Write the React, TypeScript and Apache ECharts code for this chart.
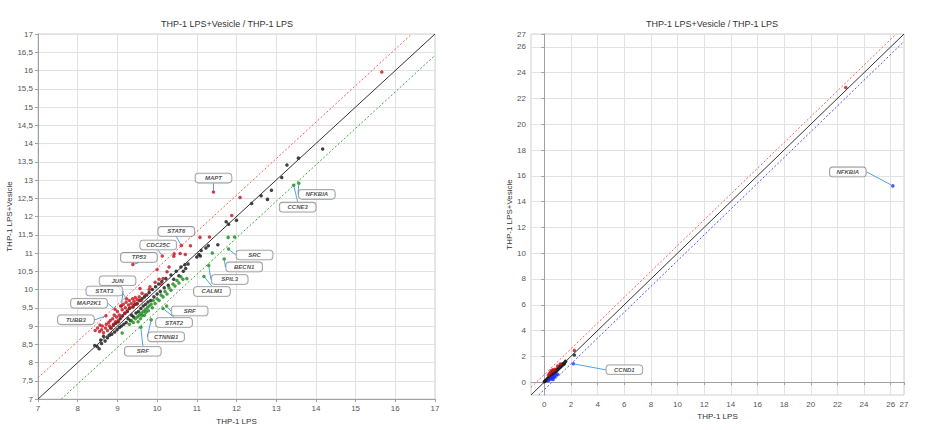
import React, { useEffect, useRef } from 'react';
import * as echarts from 'echarts';

const chartTitle = 'THP-1 LPS+Vesicle / THP-1 LPS';
const xAxisName = 'THP-1 LPS';
const yAxisName = 'THP-1 LPS+Vesicle';

const FOLD_OFFSET = Math.log2(1.5);

// ---------- Left plot (zoomed range 7..17) ----------
const leftRange = [7, 17];

const leftUpPoints: [number, number][] = [
  [8.44, 8.88], [8.56, 9.03], [9.82, 10.08], [9.57, 10.03], [10.25, 10.49],
  [10.43, 10.98], [10.58, 10.99], [10.42, 10.91], [10.71, 10.96], [10.84, 11.2],
  [11.08, 11.43], [11.32, 11.44], [11.88, 12.03], [12.09, 12.52], [15.66, 15.96],
  [8.5, 8.95], [8.55, 8.85], [8.6, 8.9], [8.62, 9.0], [8.65, 8.82], [8.7, 8.95],
  [8.72, 9.05], [8.75, 8.88], [8.78, 9.1], [8.8, 9.0], [8.82, 9.15], [8.85, 8.95],
  [8.88, 9.2], [8.9, 9.05], [8.92, 9.3], [8.95, 9.12], [8.98, 9.25], [9.0, 9.4],
  [9.02, 9.15], [9.05, 9.3], [9.08, 9.55], [9.1, 9.25], [9.12, 9.45], [9.15, 9.6],
  [9.18, 9.35], [9.2, 9.5], [9.22, 9.65], [9.25, 9.42], [9.28, 9.58], [9.3, 9.7],
  [9.32, 9.5], [9.35, 9.62], [9.38, 9.75], [9.4, 9.55], [9.42, 9.68], [9.45, 9.78],
  [9.48, 9.6], [9.5, 9.72], [9.55, 9.8], [9.6, 9.7], [9.62, 9.9], [9.7, 9.85],
  [9.8, 10.0], [9.95, 10.2], [10.05, 10.28], [10.1, 10.15], [10.15, 10.3],
  [10.0, 10.55], [10.3, 10.62],
];

const leftNeutralPoints: [number, number][] = [
  [8.43, 8.47], [8.49, 8.44], [8.54, 8.38], [8.6, 8.52], [8.69, 8.59], [8.75, 8.68],
  [8.65, 8.72], [8.58, 8.62], [8.8, 8.75], [8.83, 8.95], [8.86, 8.78], [8.9, 9.02],
  [8.93, 8.84], [8.96, 9.08], [8.99, 8.9], [9.02, 9.12], [9.05, 8.96], [9.07, 9.2],
  [9.1, 9.0], [9.13, 9.28], [9.16, 9.05], [9.19, 9.35], [9.22, 9.1], [9.25, 9.4],
  [9.27, 9.2], [9.3, 9.48], [9.33, 9.15], [9.36, 9.3], [9.39, 9.52], [9.41, 9.25],
  [9.44, 9.6], [9.47, 9.36], [9.5, 9.62], [9.53, 9.4], [9.56, 9.7], [9.59, 9.48],
  [9.62, 9.75], [9.65, 9.55], [9.68, 9.8], [9.71, 9.6], [9.74, 9.85], [9.77, 9.66],
  [9.8, 9.92], [9.84, 9.7], [9.88, 10.0], [9.92, 9.8], [9.96, 10.08], [10.0, 9.88],
  [10.04, 10.15], [10.08, 9.95], [10.12, 10.22], [10.18, 10.05], [10.22, 10.3],
  [10.28, 10.12], [10.35, 10.4], [10.42, 10.28], [10.48, 10.5], [10.55, 10.38],
  [10.6, 10.62], [10.66, 10.5], [10.7, 10.68], [10.72, 10.58], [10.78, 10.7],
  [11.0, 10.89], [11.05, 10.96], [11.09, 10.92], [11.11, 11.07], [11.23, 11.14],
  [11.29, 11.2], [11.53, 11.23], [11.74, 11.86], [11.8, 11.79], [12.0, 11.9],
  [12.38, 12.36], [12.62, 12.57], [12.78, 12.47], [12.88, 12.72], [13.14, 13.07],
  [13.27, 13.41], [13.56, 13.6], [14.17, 13.85],
];

const leftDownPoints: [number, number][] = [
  [11.39, 11.0], [11.79, 11.43], [11.95, 11.44], [9.12, 8.81],
  [9.3, 9.05], [9.35, 9.15], [9.4, 9.1], [9.45, 9.2], [9.5, 9.25], [9.52, 9.12],
  [9.55, 9.3], [9.58, 9.2], [9.6, 9.35], [9.62, 9.28], [9.65, 9.4], [9.68, 9.3],
  [9.7, 9.45], [9.72, 9.38], [9.75, 9.5], [9.78, 9.42], [9.8, 9.55], [9.85, 9.6],
  [9.88, 9.5], [9.9, 9.7], [9.95, 9.62], [10.0, 9.75], [10.05, 9.7], [10.1, 9.85],
  [10.15, 9.8], [10.2, 9.95], [10.25, 9.88], [10.3, 10.05], [10.35, 9.98],
  [10.4, 10.15], [10.45, 10.1], [10.5, 10.25], [10.55, 10.18], [10.6, 10.35],
  [10.65, 10.28], [10.75, 10.3],
];

const leftGenes = [
  { name: 'MAPT', x: 11.42, y: 12.67, group: 'up' },
  { name: 'NFKBIA', x: 13.57, y: 12.91, group: 'down' },
  { name: 'CCNE3', x: 13.44, y: 12.86, group: 'down' },
  { name: 'STAT6', x: 10.61, y: 11.21, group: 'up' },
  { name: 'CDC25C', x: 10.13, y: 10.92, group: 'up' },
  { name: 'TP53', x: 9.39, y: 10.69, group: 'up' },
  { name: 'JUN', x: 9.23, y: 9.75, group: 'up' },
  { name: 'STAT3', x: 9.1, y: 9.55, group: 'up' },
  { name: 'MAP2K1', x: 8.94, y: 9.46, group: 'up' },
  { name: 'TUBB3', x: 8.71, y: 9.28, group: 'up' },
  { name: 'SRC', x: 11.8, y: 11.11, group: 'down' },
  { name: 'BECN1', x: 11.69, y: 10.84, group: 'down' },
  { name: 'SPIL3', x: 11.3, y: 10.66, group: 'down' },
  { name: 'CALM1', x: 11.18, y: 10.36, group: 'down' },
  { name: 'SRF', x: 10.24, y: 9.55, group: 'down' },
  { name: 'STAT2', x: 10.15, y: 9.48, group: 'down' },
  { name: 'CTNNB1', x: 9.85, y: 9.17, group: 'down' },
  { name: 'SRF', x: 9.59, y: 8.97, group: 'down' },
];

// label box placement (pixel offsets from the point), layout only
const leftLabelOffsets: [number, number][] = [
  [0, -14], [18, 11], [4, 22], [-5, -14], [-4, -11], [6, -7], [-9, -18], [-17, -15],
  [-26, -6], [-30, 4], [26, 6], [20, 8], [21, 14], [8, 15], [23, 5], [11, 14], [15, 17], [2, 24],
];

// ---------- Right plot (full range -1..27) ----------
const rightRange = [-1, 27];
const rightTicks = [0, 2, 4, 6, 8, 10, 12, 14, 16, 18, 20, 22, 24, 26, 27];

const rightUpPoints: [number, number][] = [
  [0.3, 0.55], [0.4, 0.65], [0.45, 0.75], [0.5, 0.8], [0.55, 0.9], [0.6, 0.85],
  [0.65, 0.95], [0.7, 0.9], [0.8, 1.0], [1.0, 1.25], [1.2, 1.4], [2.25, 2.46], [22.63, 22.85],
];
const rightNeutralPoints: [number, number][] = [
  [0, 0.02], [0.05, 0.08], [0.1, 0.1], [0.15, 0.18], [0.2, 0.15], [0.25, 0.3], [0.3, 0.28],
  [0.35, 0.4], [0.4, 0.38], [0.45, 0.5], [0.5, 0.45], [0.55, 0.6], [0.6, 0.55], [0.65, 0.7],
  [0.7, 0.65], [0.75, 0.8], [0.8, 0.72], [0.85, 0.9], [0.9, 0.85], [0.95, 1.0], [1.0, 0.95],
  [1.05, 1.1], [1.1, 1.05], [1.15, 1.2], [1.2, 1.15], [1.25, 1.3], [1.3, 1.25], [1.35, 1.4],
  [1.4, 1.35], [1.45, 1.45], [1.5, 1.42], [1.55, 1.55], [1.6, 1.62], [2.25, 2.1],
];
const rightDownPoints: [number, number][] = [
  [0.3, 0.1], [0.4, 0.2], [0.5, 0.3], [0.55, 0.25], [0.6, 0.35], [0.7, 0.4], [0.75, 0.35],
  [0.8, 0.5], [0.9, 0.55], [1.0, 0.6], [0.65, 0.2],
];
const rightGenes = [
  { name: 'NFKBIA', x: 26.16, y: 15.22, group: 'down' },
  { name: 'CCND1', x: 2.18, y: 1.42, group: 'down' },
];
const rightLabelOffsets: [number, number][] = [[-45, -14], [51, 6]];

const UP = '#c0121b';
const NEUTRAL = '#111111';
const DOWN_LEFT = '#188a18';
const DOWN_RIGHT = '#2030ff';
const AXIS_FONT = '"Liberation Sans Narrow", "Liberation Sans", Arial, sans-serif';
const TITLE_STYLE = { fontSize: 9, fontWeight: 'normal', color: '#333', fontFamily: '"Liberation Sans", Arial, sans-serif' };

function scatter(data: [number, number][], color: string, idx: number) {
  return {
    type: 'scatter',
    xAxisIndex: idx,
    yAxisIndex: idx,
    symbolSize: 3.5,
    itemStyle: { color },
    data,
    silent: true,
  };
}

function refLine(data: number[][], color: string, idx: number, dashed: boolean) {
  return {
    type: 'line',
    xAxisIndex: idx,
    yAxisIndex: idx,
    symbol: 'none',
    silent: true,
    lineStyle: { color, width: 1, type: dashed ? [2, 2] : 'solid' },
    data,
  };
}

function annotations(
  genes: { name: string; x: number; y: number; group: string }[],
  offsets: [number, number][],
  downColor: string,
  idx: number
) {
  return {
    type: 'scatter',
    xAxisIndex: idx,
    yAxisIndex: idx,
    symbolSize: 3.5,
    silent: true,
    z: 5,
    data: genes.map((g) => ({
      value: [g.x, g.y],
      name: g.name,
      itemStyle: { color: g.group === 'up' ? UP : downColor },
    })),
    label: {
      show: true,
      position: 'inside',
      formatter: '{b}',
      fontSize: 6,
      fontStyle: 'italic',
      fontWeight: 'bold',
      fontFamily: '"Liberation Sans", Arial, sans-serif',
      color: '#222',
      backgroundColor: '#fff',
      borderColor: '#7a7a7a',
      borderWidth: 0.8,
      borderRadius: 3,
      width: 32,
      align: 'center',
      lineHeight: 7,
      padding: [1, 2],
    },
    labelLine: { show: true, lineStyle: { color: '#4ea4e0', width: 1 } },
    labelLayout: (params: any) => {
      const o = offsets[params.dataIndex] || [0, 0];
      return { dx: o[0], dy: o[1] };
    },
  };
}

function axisCommon() {
  return {
    axisLine: { show: true, lineStyle: { color: '#a0a0a0' } },
    axisTick: { show: true, length: 3, lineStyle: { color: '#a0a0a0' } },
    splitLine: { show: true, lineStyle: { color: '#e2e2e2', width: 1 } },
    axisLabel: { fontSize: 8, color: '#555', fontFamily: AXIS_FONT, margin: 5 },
    nameTextStyle: { fontSize: 8, color: '#333', fontFamily: AXIS_FONT },
    nameLocation: 'middle',
  };
}

export default function App() {
  const ref = useRef<HTMLDivElement>(null);

  useEffect(() => {
    if (!ref.current) return;
    const chart = echarts.init(ref.current, undefined, { renderer: 'svg' });
    const fmtComma = (v: number) => String(v).replace('.', ',');

    chart.setOption({
      animation: false,
      backgroundColor: '#fff',
      title: [
        { text: chartTitle, left: 222, top: 14, textAlign: 'center', textStyle: TITLE_STYLE },
        { text: chartTitle, left: 707, top: 14, textAlign: 'center', textStyle: TITLE_STYLE },
      ],
      grid: [
        { left: 38, top: 34, width: 397, height: 372, show: true, borderColor: '#d0d0d0', borderWidth: 1 },
        { left: 531, top: 34, width: 373, height: 361, show: true, borderColor: '#d0d0d0', borderWidth: 1 },
      ],
      xAxis: [
        {
          ...axisCommon(),
          type: 'value',
          gridIndex: 0,
          min: leftRange[0],
          max: leftRange[1],
          interval: 1,
          name: xAxisName,
          nameGap: 14,
        },
        {
          ...axisCommon(),
          type: 'value',
          gridIndex: 1,
          min: rightRange[0],
          max: rightRange[1],
          name: xAxisName,
          nameGap: 13,
          axisTick: { show: true, length: 3, lineStyle: { color: '#a0a0a0' }, customValues: rightTicks },
          axisLabel: { ...axisCommon().axisLabel, customValues: rightTicks },
        },
      ],
      yAxis: [
        {
          ...axisCommon(),
          type: 'value',
          gridIndex: 0,
          min: leftRange[0],
          max: leftRange[1],
          interval: 0.5,
          name: yAxisName,
          nameGap: 17,
          axisLabel: { ...axisCommon().axisLabel, formatter: fmtComma },
        },
        {
          ...axisCommon(),
          type: 'value',
          gridIndex: 1,
          min: rightRange[0],
          max: rightRange[1],
          name: yAxisName,
          nameGap: 12,
          axisTick: { show: true, length: 3, lineStyle: { color: '#a0a0a0' }, customValues: rightTicks },
          axisLabel: { ...axisCommon().axisLabel, customValues: rightTicks },
        },
      ],
      series: [
        refLine([[leftRange[0], leftRange[0]], [leftRange[1], leftRange[1]]], '#333', 0, false),
        refLine([[leftRange[0], leftRange[0] + FOLD_OFFSET], [leftRange[1] - FOLD_OFFSET, leftRange[1]]], '#ff5a5a', 0, true),
        refLine([[leftRange[0] + FOLD_OFFSET, leftRange[0]], [leftRange[1], leftRange[1] - FOLD_OFFSET]], '#3aa83a', 0, true),
        scatter(leftNeutralPoints, NEUTRAL, 0),
        scatter(leftUpPoints, UP, 0),
        scatter(leftDownPoints, DOWN_LEFT, 0),
        annotations(leftGenes, leftLabelOffsets, DOWN_LEFT, 0),

        refLine([[rightRange[0], rightRange[0]], [rightRange[1], rightRange[1]]], '#333', 1, false),
        refLine([[rightRange[0], rightRange[0] + FOLD_OFFSET], [rightRange[1] - FOLD_OFFSET, rightRange[1]]], '#ff5a5a', 1, true),
        refLine([[rightRange[0] + FOLD_OFFSET, rightRange[0]], [rightRange[1], rightRange[1] - FOLD_OFFSET]], '#5050ff', 1, true),
        scatter(rightNeutralPoints, NEUTRAL, 1),
        scatter(rightUpPoints, UP, 1),
        scatter(rightDownPoints, DOWN_RIGHT, 1),
        annotations(rightGenes, rightLabelOffsets, DOWN_RIGHT, 1),
      ],
    });

    return () => chart.dispose();
  }, []);

  return (
    <div
      ref={ref}
      style={{ position: 'fixed', left: 0, top: 0, width: 934, height: 430, background: '#fff' }}
    />
  );
}
